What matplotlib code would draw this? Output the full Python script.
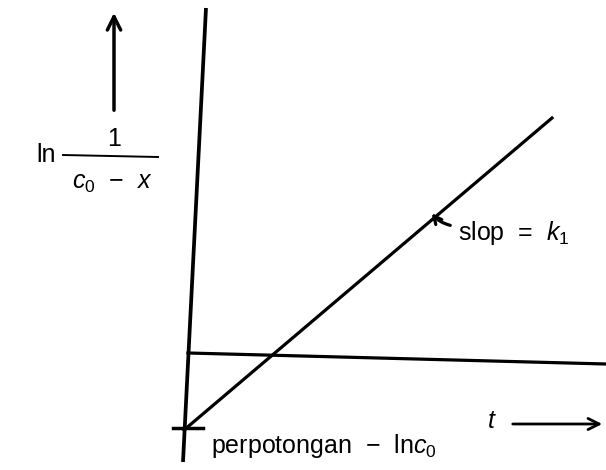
import matplotlib.pyplot as plt

plt.rcParams['font.family'] = ['Liberation Sans', 'DejaVu Sans']
plt.rcParams['mathtext.fontset'] = 'custom'
plt.rcParams['mathtext.rm'] = 'Liberation Sans'
plt.rcParams['mathtext.it'] = 'Liberation Sans:italic'

# skema garis (koordinat gambar, y ke bawah)
sumbu_y_x = [206, 183]
sumbu_y_y = [8, 462]
datar_x = [188, 606]
datar_y = [353, 364]
garis_x = [184, 552]
garis_y = [430, 118]
tick_x = [173, 203]
tick_y = [428, 428]
fraksi_x = [63, 158]
fraksi_y = [155, 157]

fig = plt.figure(figsize=(6.06, 4.70), dpi=100)
ax = fig.add_axes([0, 0, 1, 1])
ax.set_xlim(0, 606)
ax.set_ylim(470, 0)
ax.axis('off')

ax.plot(sumbu_y_x, sumbu_y_y, color='black', lw=2.7, solid_capstyle='butt')
ax.plot(datar_x, datar_y, color='black', lw=2.3)
ax.plot(garis_x, garis_y, color='black', lw=2.3)
ax.plot(tick_x, tick_y, color='black', lw=2.5)
ax.plot(fraksi_x, fraksi_y, color='black', lw=1.4)

# panah sumbu
ax.annotate('', xy=(114, 10), xytext=(114, 113),
            arrowprops=dict(arrowstyle='->', lw=2.5, color='black',
                            mutation_scale=24))
ax.annotate('', xy=(605, 424), xytext=(510, 424),
            arrowprops=dict(arrowstyle='->', lw=2.0, color='black',
                            mutation_scale=20))
# panah slop
ax.annotate('', xy=(430, 211), xytext=(453, 226),
            arrowprops=dict(arrowstyle='->', lw=2.3, color='black',
                            mutation_scale=14,
                            connectionstyle='arc3,rad=-0.2'))

fs = 18
ax.text(36, 155, 'ln', fontsize=fs, va='center', ha='left')
ax.text(114, 139, '1', fontsize=fs, va='center', ha='center')
ax.text(112, 183, '$c_0$  −  $x$', fontsize=fs, va='center', ha='center')
ax.text(458, 233, 'slop  =  $k_1$', fontsize=fs, va='center', ha='left')
ax.text(492, 421, '$t$', fontsize=fs, va='center', ha='center')
ax.text(211, 446, 'perpotongan  −  ln$c_0$', fontsize=fs, va='center', ha='left')

fig.savefig('out.png', dpi=100)
